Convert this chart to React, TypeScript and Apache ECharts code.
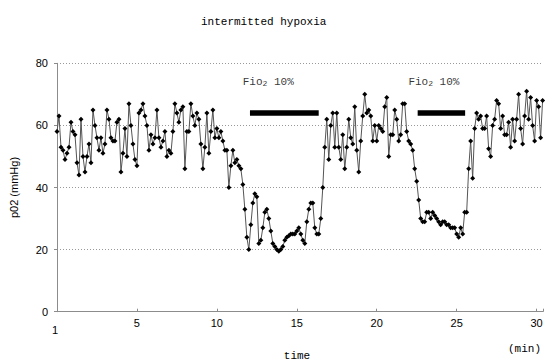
import React, { useEffect, useRef } from "react";
import * as echarts from "echarts";

// sampling interval of the pO2 trace (minutes)
const TIME_STEP = 0.125;

// pO2 (mmHg), one row per minute (8 samples per minute)
const PO2: number[] = [
  58, 63, 53, 52, 49, 51, 53, 61,
  58, 57, 48, 44, 62, 50, 45, 50,
  54, 48, 65, 60, 56, 52, 56, 51,
  54, 65, 62, 56, 55, 55, 61, 62,
  45, 51, 59, 50, 67, 60, 54, 49,
  47, 64, 65, 67, 63, 60, 52, 57,
  54, 56, 65, 56, 53, 55, 58, 50,
  52, 51, 58, 67, 64, 61, 65, 66,
  46, 58, 58, 67, 63, 60, 64, 62,
  54, 46, 53, 64, 51, 58, 65, 56,
  59, 56, 58, 55, 52, 52, 40, 47,
  52, 48, 49, 47, 46, 41, 33, 24,
  20, 28, 35, 38, 37, 22, 23, 27,
  32, 33, 30, 26, 22, 21, 20, 19.5,
  20, 21, 23, 24, 24.5, 25, 25, 25,
  26, 27, 25, 23, 22, 29, 33, 35,
  35, 27, 25, 25, 30, 40, 53, 62,
  49, 60, 64, 53, 64, 53, 49, 57,
  46, 53, 62, 56, 54, 66, 52, 45,
  55, 63, 70, 64, 65, 63, 55, 60,
  55, 60, 59, 58, 66, 69, 50, 57,
  57, 65, 62, 55, 57, 67, 67, 58,
  55, 54, 52, 46, 42, 36, 30, 29,
  29, 32, 32, 30, 32, 31, 30, 29,
  28, 29, 29, 28, 28, 27, 27, 27,
  25, 24, 27, 25, 32, 32, 46, 55,
  43, 59, 64, 62, 63, 59, 59, 63,
  52.5, 50, 60, 62, 68, 67, 59, 63,
  57, 57, 61, 53, 62, 55, 62, 70,
  59, 54, 63, 71, 62, 69, 60, 55,
  68, 66, 56, 68,
];

// FiO2 10% periods (start, end in minutes) and the level the bar is drawn at
const HYPOXIA_PERIODS: [number, number][] = [
  [12.07, 16.37],
  [22.56, 25.53],
];
const BAR_LEVEL = 64;

// label anchor points (minute, value)
const LABEL_POINTS: [number, number][] = [
  [11.62, 74],
  [21.98, 74],
];

const Y_MIN = 0;
const Y_MAX = 80;
const Y_INTERVAL = 20;
const X_MIN = 0;
const X_MAX = 30.4;
const X_INTERVAL = 5;

const TITLE = "intermitted hypoxia";
const Y_NAME = "p02 (mmHg)";
const X_NAME = "time";
const X_UNIT = "(min)";
const FIRST_LABEL = "1";

export default function App() {
  const ref = useRef<HTMLDivElement>(null);

  useEffect(() => {
    if (!ref.current) return;
    const chart = echarts.init(ref.current, undefined, { renderer: "svg" });

    const trace = PO2.map((v, i) => [i * TIME_STEP, v]);
    const bars: any[] = [];
    HYPOXIA_PERIODS.forEach(([a, b], i) => {
      if (i > 0) bars.push([(a + HYPOXIA_PERIODS[i - 1][1]) / 2, "-"]);
      bars.push([a, BAR_LEVEL]);
      bars.push([b, BAR_LEVEL]);
    });

    const mono = "Liberation Mono";
    const sans = "Liberation Sans";

    chart.setOption({
      animation: false,
      backgroundColor: "#ffffff",
      grid: { left: 55, right: 0, top: 63.3, bottom: 51.3, containLabel: false },
      xAxis: {
        type: "value",
        min: X_MIN,
        max: X_MAX,
        interval: X_INTERVAL,
        axisLine: { show: true, lineStyle: { color: "#8c8c8c", width: 1 } },
        axisTick: { show: true, inside: true, length: 3, lineStyle: { color: "#8c8c8c" } },
        axisLabel: {
          margin: 6,
          fontFamily: sans,
          fontSize: 11,
          color: "#000",
          formatter: (v: number) => (v > 0 && v % 5 === 0 ? String(v) : ""),
        },
        splitLine: { show: false },
      },
      yAxis: {
        type: "value",
        min: Y_MIN,
        max: Y_MAX,
        interval: Y_INTERVAL,
        name: Y_NAME,
        nameLocation: "middle",
        nameGap: 38,
        nameRotate: 90,
        nameTextStyle: { fontFamily: sans, fontSize: 11, color: "#000" },
        axisLine: { show: true, lineStyle: { color: "#8c8c8c", width: 1 } },
        axisTick: { show: true, length: 3, lineStyle: { color: "#8c8c8c" } },
        axisLabel: { margin: 9, fontFamily: sans, fontSize: 11, color: "#000" },
        splitLine: { show: true, lineStyle: { color: "#999", type: [1, 2], width: 1 } },
      },
      series: [
        {
          type: "line",
          data: trace,
          symbol: "diamond",
          symbolSize: 5,
          showSymbol: true,
          itemStyle: { color: "#000" },
          lineStyle: { color: "#555", width: 1 },
          z: 3,
        },
        {
          type: "line",
          data: bars,
          symbol: "none",
          connectNulls: false,
          lineStyle: { color: "#000", width: 5.5, cap: "butt" },
          z: 4,
        },
        {
          type: "scatter",
          data: LABEL_POINTS,
          symbolSize: 0,
          itemStyle: { color: "transparent" },
          label: {
            show: true,
            position: "right",
            distance: 0,
            formatter: "{a|Fio}{s|2}{a| 10%}",
            rich: {
              a: { fontFamily: mono, fontSize: 11, color: "#000" },
              s: { fontFamily: mono, fontSize: 8, color: "#000", padding: [3, 0, 0, 0] },
            },
          },
          z: 5,
        },
      ],
      graphic: [
        {
          type: "text",
          left: 264 - 63,
          top: 16,
          style: { text: TITLE, font: `11px ${mono}`, fill: "#000" },
        },
        {
          type: "text",
          x: 55,
          y: 330,
          style: { text: FIRST_LABEL, font: `11px ${sans}`, fill: "#000", align: "center", verticalAlign: "middle" },
        },
        {
          type: "text",
          x: 297,
          y: 356,
          style: { text: X_NAME, font: `11px ${mono}`, fill: "#000", align: "center", verticalAlign: "middle" },
        },
        {
          type: "text",
          x: 541,
          y: 349,
          style: { text: X_UNIT, font: `11px ${mono}`, fill: "#000", align: "right", verticalAlign: "middle" },
        },
      ],
    });

    return () => chart.dispose();
  }, []);

  return (
    <div
      ref={ref}
      style={{ position: "fixed", left: 0, top: 0, width: 546, height: 363, background: "#fff" }}
    />
  );
}
